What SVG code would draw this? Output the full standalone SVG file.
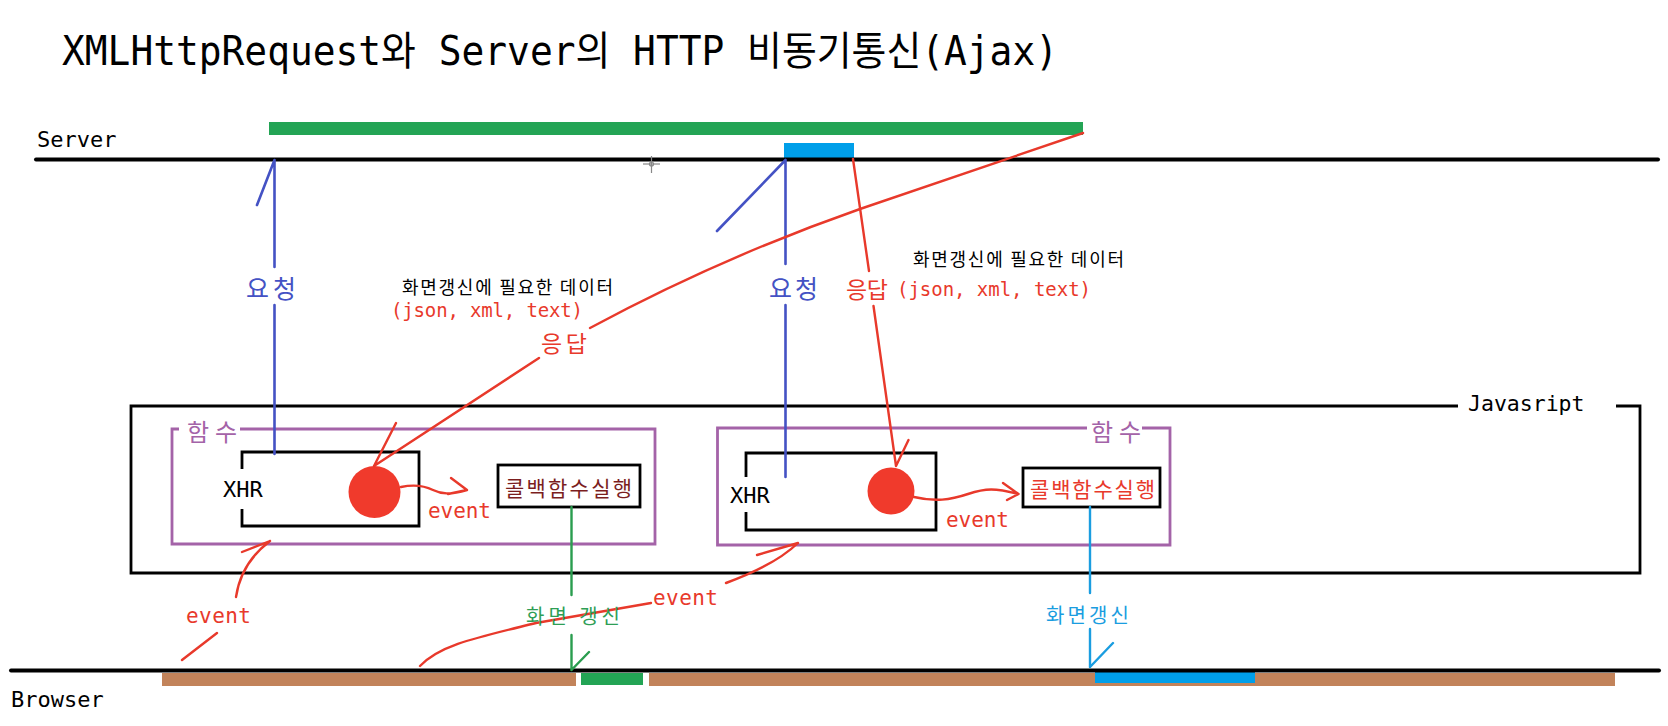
<svg xmlns="http://www.w3.org/2000/svg" width="1668" height="726" viewBox="0 0 1668 726">
<style>
.mono{font-family:"DejaVu Sans Mono","Noto Sans CJK KR",monospace}
.kr{font-family:"Noto Sans CJK KR","Noto Sans",sans-serif}
.red{fill:#e8392b}
.blk{fill:#000}
.ln{fill:none;stroke-linecap:round;stroke-linejoin:round}
.rq{stroke:#4452c4;stroke-width:2.6}
.rs{stroke:#e8392b;stroke-width:2.4}
.bx{fill:none;stroke:#000;stroke-width:2.8}
.pu{fill:none;stroke:#a463a8;stroke-width:2.8}
</style>
<rect width="1668" height="726" fill="#fff"/>

<g id="title">
<text x="62" y="65" class="mono" font-size="40" textLength="996" lengthAdjust="spacingAndGlyphs">XMLHttpRequest와 Server의 HTTP 비동기통신(Ajax)</text>
</g>

<g id="server">
<rect x="269" y="122" width="814" height="13" fill="#23a455"/>
<rect x="784" y="143" width="70" height="16" fill="#009fe9"/>
<line x1="36" y1="159.5" x2="1658" y2="159.5" stroke="#000" stroke-width="4" stroke-linecap="round"/>
<text x="37" y="147" class="mono" font-size="22">Server</text>
<g stroke="#888" stroke-width="1.2" fill="none"><line x1="643" y1="164" x2="660" y2="164"/><line x1="651.5" y1="156" x2="651.5" y2="173"/><circle cx="651.5" cy="164" r="2"/></g>
</g>

<g id="browser">
<rect x="162" y="673" width="414" height="13" fill="#c2835a"/>
<rect x="649" y="673" width="966" height="13" fill="#c2835a"/>
<rect x="581" y="673" width="62" height="12" fill="#23a455"/>
<rect x="1095" y="671" width="160" height="12" fill="#009fe9"/>
<line x1="11" y1="670.5" x2="1659" y2="670.5" stroke="#000" stroke-width="4" stroke-linecap="round"/>
<text x="11" y="707" class="mono" font-size="22">Browser</text>
</g>

<g id="javascript">
<path d="M1458,406 L131,406 L131,573 L1640,573 L1640,406 L1616,406" class="bx" stroke-width="2.6"/>
<text x="1468" y="411" class="mono" font-size="21.5">Javasript</text>
</g>

<g id="func-left">
<path d="M179,429 L172,429 L172,544 L655,544 L655,429 L240,429" class="pu"/>
<text x="187" y="441" class="kr" font-size="24" fill="#a463a8" textLength="50">함수</text>
</g>
<g id="func-right">
<path d="M1087,428 L717.5,428 L717.5,545 L1170,545 L1170,428 L1142,428" class="pu"/>
<text x="1091" y="441" class="kr" font-size="24" fill="#a463a8" textLength="50">함수</text>
</g>

<g id="xhr-left">
<path d="M242,469 L242,452 L419,452 L419,526 L242,526 L242,509" class="bx"/>
<text x="223" y="497" class="mono" font-size="22">XHR</text>
<ellipse cx="374.5" cy="492" rx="26" ry="26" fill="#f03a2c"/>
</g>
<g id="xhr-right">
<path d="M746,477 L746,453 L936,453 L936,530 L746,530 L746,512" class="bx"/>
<text x="730" y="503" class="mono" font-size="22">XHR</text>
<ellipse cx="891" cy="491" rx="23.5" ry="23.5" fill="#f03a2c"/>
</g>

<g id="callback-left">
<rect x="498" y="465" width="142" height="42" class="bx"/>
<text x="505" y="496" class="kr" font-size="21" fill="#7b1e1e" textLength="127">콜백함수실행</text>
</g>
<g id="callback-right">
<rect x="1023" y="468" width="137" height="39" class="bx"/>
<text x="1030" y="497" class="kr" font-size="21" fill="#e8392b" textLength="125">콜백함수실행</text>
</g>

<g id="connectors">
<!-- left request -->
<path d="M274.5,160 L274.5,267 M274.5,305 L274.5,454 M274.5,160 L257,205" class="ln rq"/>
<!-- right request -->
<path d="M785.5,160 L785.5,264 M785.5,305 L785.5,477 M785.5,160 L717,231" class="ln rq"/>
<!-- left response long curve -->
<path d="M1083,133 L860,209 Q720,258 590,328 M539,358 L374,466 M396,423 L374,466" class="ln rs"/>
<!-- right response -->
<path d="M853,159 L869,271 M873.5,306 L896,466 M908.5,440 L896,466" class="ln rs"/>
<!-- left event squiggle -->
<path d="M401,487 C415,484 425,486 433,490 S450,495 467,490 M451,478 L467,490 L448,494" class="ln rs"/>
<!-- right event squiggle -->
<path d="M914,497 C935,502 950,500 968,494 S995,488 1018.5,494 M1003,483 L1018.5,494 L1007,500" class="ln rs"/>
<!-- left browser event -->
<path d="M182,660 L217,633 M236,597 Q241,563 270,541 M242,552 L270,541" class="ln rs"/>
<!-- middle browser event -->
<path d="M420,666 C440,645 475,638 536,623 L651,603 M726,583 Q775,565 798,543 M757,555 L798,543" class="ln rs"/>
<!-- green update -->
<path d="M571.5,507 L571.5,595 M571.5,635 L571.5,670 M589,652 L571.5,670" class="ln" stroke="#2a9d4f" stroke-width="2.4"/>
<!-- sky update -->
<path d="M1090,507 L1090,593 M1090,629 L1090,667 M1113,643 L1090,667" class="ln" stroke="#1a9de0" stroke-width="2.4"/>
</g>

<g id="labels">
<text x="246" y="298" class="kr" font-size="25" fill="#4452c4" textLength="50">요청</text>
<text x="769" y="298" class="kr" font-size="25" fill="#4452c4" textLength="49">요청</text>
<text x="402" y="294" class="kr" font-size="18" textLength="211">화면갱신에 필요한 데이터</text>
<text x="913" y="266" class="kr" font-size="18" textLength="211">화면갱신에 필요한 데이터</text>
<text x="391" y="317" class="mono red" font-size="19" textLength="192">(json, xml, text)</text>
<text x="897" y="296" class="mono red" font-size="19" textLength="194">(json, xml, text)</text>
<text x="541" y="352" class="kr red" font-size="23" textLength="46">응답</text>
<text x="846" y="298" class="kr red" font-size="23" textLength="42">응답</text>
<text x="428" y="518" class="mono red" font-size="21" textLength="63">event</text>
<text x="946" y="527" class="mono red" font-size="21" textLength="63">event</text>
<text x="186" y="623" class="mono red" font-size="21" textLength="65">event</text>
<text x="653" y="605" class="mono red" font-size="21" textLength="65">event</text>
<text x="526" y="624" class="kr" font-size="20" fill="#2e9e55" textLength="94">화면 갱신</text>
<text x="1046" y="623" class="kr" font-size="20" fill="#1a9de0" textLength="83">화면갱신</text>
</g>
</svg>
